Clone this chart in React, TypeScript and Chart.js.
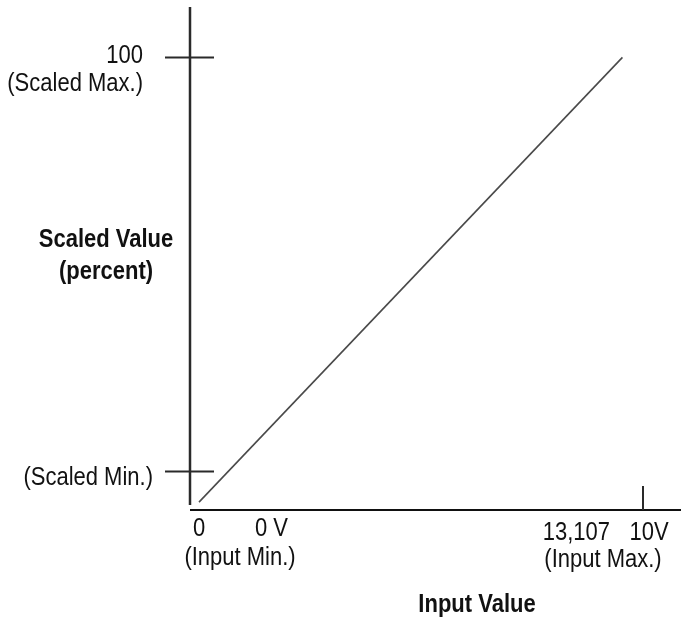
import React, { useEffect, useRef } from "react";
import { Chart, registerables } from "chart.js";

Chart.register(...registerables);

// Data
const inputValues = [0, 12500];
const scaledValues = [-7.6, 100];
const yTickValues = [100, 0];
const yTickLabels = [["100", "(Scaled Max.)"], ["(Scaled Min.)"]];
const xTickValues = [0, 13107];
const xCountLabels = ["0", "13,107"];
const xVoltLabels = ["0 V", "10V"];
const xRangeLabels = ["(Input Min.)", "(Input Max.)"];
const yTitle = ["Scaled Value", "(percent)"];
const xTitle = "Input Value";

const FONT = '"Liberation Sans", Arial, sans-serif';
const SQUEEZE = 0.88;

function txt(ctx: CanvasRenderingContext2D, s: string, x: number, y: number, align: CanvasTextAlign) {
  ctx.save();
  ctx.translate(x, y);
  ctx.scale(SQUEEZE, 1);
  ctx.textAlign = align;
  ctx.fillText(s, 0, 0);
  ctx.restore();
}

const overlay = {
  id: "overlay",
  afterDatasetsDraw(chart: any) {
    const { ctx, chartArea, scales } = chart;
    const xs = scales.x;
    const ys = scales.y;
    ctx.save();
    // axes
    ctx.strokeStyle = "#2a2a2a";
    ctx.lineWidth = 2.5;
    ctx.beginPath();
    ctx.moveTo(chartArea.left, chartArea.top);
    ctx.lineTo(chartArea.left, chartArea.bottom - 5);
    ctx.stroke();
    ctx.strokeStyle = "#111";
    ctx.lineWidth = 2;
    ctx.beginPath();
    ctx.moveTo(chartArea.left, chartArea.bottom);
    ctx.lineTo(chartArea.right, chartArea.bottom);
    ctx.stroke();

    // y ticks crossing the axis
    ctx.strokeStyle = "#2a2a2a";
    ctx.lineWidth = 2;
    yTickValues.forEach((v) => {
      const py = Math.round(ys.getPixelForValue(v)) + 0.5;
      ctx.beginPath();
      ctx.moveTo(chartArea.left - 25, py);
      ctx.lineTo(chartArea.left + 24, py);
      ctx.stroke();
    });
    // x tick at max
    const pxMax = xs.getPixelForValue(xTickValues[1]);
    ctx.beginPath();
    ctx.moveTo(pxMax, chartArea.bottom - 24);
    ctx.lineTo(pxMax, chartArea.bottom);
    ctx.stroke();

    // y tick labels
    ctx.fillStyle = "#111";
    ctx.font = `25px ${FONT}`;
    ctx.textBaseline = "middle";
    const py100 = ys.getPixelForValue(yTickValues[0]);
    txt(ctx, yTickLabels[0][0], chartArea.left - 47, py100 - 1, "right");
    txt(ctx, yTickLabels[0][1], chartArea.left - 47, py100 + 27, "right");
    const py0 = ys.getPixelForValue(yTickValues[1]);
    txt(ctx, yTickLabels[1][0], chartArea.left - 37, py0 + 7, "right");

    // x labels
    const px0 = xs.getPixelForValue(xTickValues[0]);
    const by = chartArea.bottom;
    txt(ctx, xCountLabels[0], px0, by + 19, "center");
    txt(ctx, xVoltLabels[0], px0 + 56, by + 19, "left");
    txt(ctx, xRangeLabels[0], px0 + 41, by + 48, "center");

    txt(ctx, xCountLabels[1], pxMax - 33, by + 23, "right");
    txt(ctx, xVoltLabels[1], pxMax + 6, by + 23, "center");
    txt(ctx, xRangeLabels[1], pxMax - 40, by + 50, "center");

    // titles
    ctx.font = `bold 25px ${FONT}`;
    txt(ctx, yTitle[0], 106, 240, "center");
    txt(ctx, yTitle[1], 106, 272, "center");
    txt(ctx, xTitle, 477, 605, "center");
    ctx.restore();
  },
};

export default function App() {
  const ref = useRef<HTMLCanvasElement>(null);
  useEffect(() => {
    if (!ref.current) return;
    const chart = new Chart(ref.current, {
      type: "scatter",
      data: {
        datasets: [
          {
            data: inputValues.map((x, i) => ({ x, y: scaledValues[i] })),
            showLine: true,
            borderColor: "#4a4a4a",
            borderWidth: 1.6,
            pointRadius: 0,
          },
        ],
      },
      options: {
        responsive: false,
        animation: false,
        layout: { padding: { left: 190, right: 0, top: 7, bottom: 110 } },
        plugins: { legend: { display: false }, tooltip: { enabled: false } },
        scales: {
          x: { type: "linear", display: false, min: -266, max: 14229 },
          y: { type: "linear", display: false, min: -9.5, max: 112.2 },
        },
      },
      plugins: [overlay],
    });
    return () => chart.destroy();
  }, []);
  return (
    <div style={{ position: "fixed", left: 0, top: 0, width: 681, height: 620, background: "#fff" }}>
      <canvas ref={ref} width={681} height={620} />
    </div>
  );
}
